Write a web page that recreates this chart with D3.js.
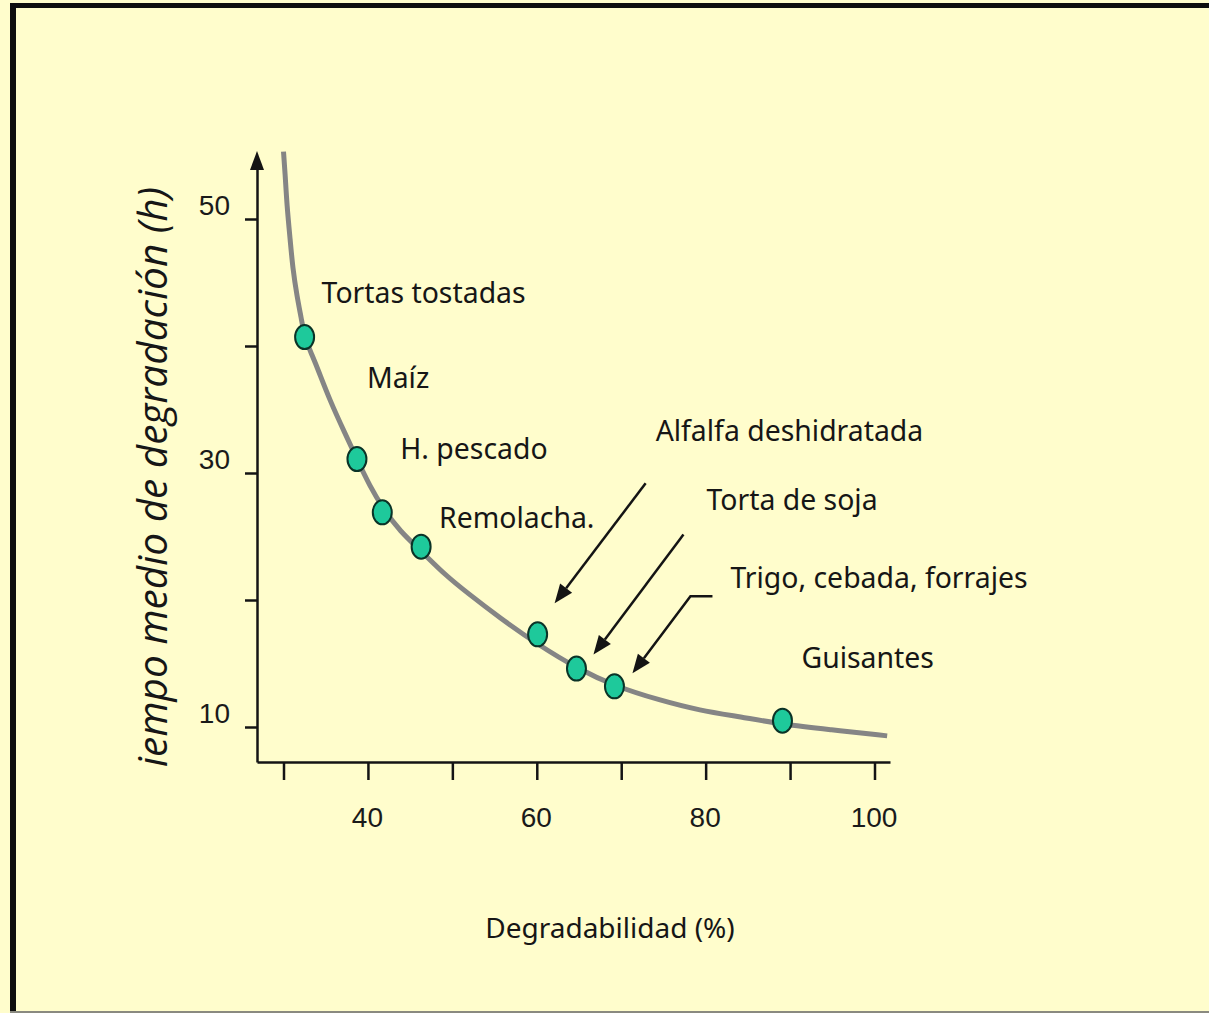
<!DOCTYPE html>
<html>
<head>
<meta charset="utf-8">
<script src="https://cdn.jsdelivr.net/npm/d3@7"></script>
<style>
  html, body { margin: 0; padding: 0; background: #FFFDCC; }
  svg { display: block; }
</style>
</head>
<body>
<svg id="chart" width="1209" height="1013"></svg>
<script>
// ---- data ----
const names = ["Tortas tostadas", "Maíz", "H. pescado", "Remolacha.", "Alfalfa deshidratada", "Torta de soja", "Trigo, cebada, forrajes", "Guisantes"];
const degradability = [32.5, 38.7, 41.7, 46.3, 60.1, 64.7, 69.2, 89.1];
const halfLife = [40.7, 31.1, 26.9, 24.2, 17.3, 14.6, 13.2, 10.5];

const curveX = [30.0, 30.2, 30.4, 30.8, 31.1, 31.6, 32.1, 32.5, 33.3, 34.0, 35.5, 37.3, 38.7, 40.2, 41.8, 43.8, 46.4, 49.1, 51.7, 55.6, 60.1, 64.8, 69.3, 74.6, 79.3, 84.1, 89.2, 94.7, 101.5];
const curveY = [55.3, 53.5, 51.1, 48.3, 46.1, 43.9, 42.2, 40.7, 39.4, 38.3, 35.7, 33.1, 31.1, 29.0, 27.2, 25.4, 23.8, 22.0, 20.6, 18.6, 16.5, 14.6, 13.2, 12.1, 11.3, 10.8, 10.2, 9.8, 9.3];

const xTicks = [30, 40, 50, 60, 70, 80, 90, 100];
const xTickLabels = ["", "40", "", "60", "", "80", "", "100"];
const yTicks = [10, 20, 30, 40, 50];
const yTickLabels = ["10", "", "30", "", "50"];

const xTitle = "Degradabilidad (%)";
const yTitle = "iempo medio de degradación (h)";

// ---- layout ----
const svg = d3.select("#chart");
const W = 1209, H = 1013;
const BG = "#FFFDCC";
const INK = "#141414";

svg.append("rect").attr("width", W).attr("height", H).attr("fill", BG);
// frame
svg.append("rect").attr("x", 10).attr("y", 3).attr("width", W - 10).attr("height", 5).attr("fill", "#0e0e0e");
svg.append("rect").attr("x", 10).attr("y", 3).attr("width", 6).attr("height", H - 3).attr("fill", "#0e0e0e");
svg.append("rect").attr("x", 10).attr("y", H - 2).attr("width", W - 10).attr("height", 2).attr("fill", "#8a8a80");

const x = d3.scaleLinear().domain([30, 100]).range([283.5, 874.5]);
const y = d3.scaleLinear().domain([10, 50]).range([727, 219]);

const axisLeftX = 257, axisBottomY = 762, axisRightX = 890, axisTopY = 168;

// x axis
const xAxisScale = d3.scaleLinear()
  .domain([x.invert(axisLeftX), x.invert(axisRightX)])
  .range([axisLeftX, axisRightX]);
const gx = svg.append("g").attr("transform", `translate(0,${axisBottomY})`)
  .call(d3.axisBottom(xAxisScale).tickValues(xTicks).tickSize(18).tickSizeOuter(0)
    .tickFormat((d, i) => xTickLabels[i]));
gx.select(".domain").attr("stroke", INK).attr("stroke-width", 2.5);
gx.selectAll(".tick line").attr("stroke", INK).attr("stroke-width", 2.5);
gx.selectAll(".tick text").attr("dy", null).attr("y", 65).attr("x", -1)
  .attr("fill", "#1a1a1a")
  .style("font-family", "'Liberation Sans', Arial, sans-serif").style("font-size", "28px");

// y axis
const yAxisScale = d3.scaleLinear()
  .domain([y.invert(axisBottomY), y.invert(axisTopY)])
  .range([axisBottomY, axisTopY]);
const gy = svg.append("g").attr("transform", `translate(${axisLeftX},0)`)
  .call(d3.axisLeft(yAxisScale).tickValues(yTicks).tickSize(12).tickSizeOuter(0)
    .tickFormat((d, i) => yTickLabels[i]));
gy.select(".domain").attr("stroke", INK).attr("stroke-width", 2.5);
gy.selectAll(".tick line").attr("stroke", INK).attr("stroke-width", 2.5);
gy.selectAll(".tick text").attr("dy", null).attr("y", -5).attr("x", -27)
  .attr("fill", "#1a1a1a")
  .style("font-family", "'Liberation Sans', Arial, sans-serif").style("font-size", "28px");
// arrowhead on y axis
svg.append("path")
  .attr("d", `M${axisLeftX},151 L${axisLeftX - 7},170 L${axisLeftX + 7},170 Z`)
  .attr("fill", INK);

// curve
const curvePts = curveX.map((v, i) => [v, curveY[i]]);
svg.append("path")
  .datum(curvePts)
  .attr("d", d3.line().x(d => x(d[0])).y(d => y(d[1])).curve(d3.curveBasis))
  .attr("fill", "none")
  .attr("stroke", "#858585")
  .attr("stroke-width", 5)
  .attr("stroke-linecap", "butt");

// points
const pts = names.map((n, i) => ({ name: n, x: degradability[i], y: halfLife[i] }));
svg.append("g").selectAll("ellipse").data(pts).join("ellipse")
  .attr("cx", d => x(d.x)).attr("cy", d => y(d.y))
  .attr("rx", 9.5).attr("ry", 12)
  .attr("fill", "#1ec99b")
  .attr("stroke", "#0b3327").attr("stroke-width", 2);

// label offsets (pixels from point centre)
const labelOffsets = [[17, -34], [10, -71], [18, -53], [18, -19], [118, -193], [130, -159], [116, -98], [19, -53]];
svg.append("g").selectAll("text").data(pts).join("text")
  .attr("x", (d, i) => x(d.x) + labelOffsets[i][0])
  .attr("y", (d, i) => y(d.y) + labelOffsets[i][1])
  .attr("fill", "#161616")
  .style("font-family", "'Noto Sans', sans-serif")
  .style("font-size", "28.4px")
  .text(d => d.name);

// arrows (pixel offsets from point centre): polyline ending at arrow tip
const arrowPaths = {
  4: [[108, -151], [17, -31]],
  5: [[107, -134], [17, -14]],
  6: [[98, -90], [76, -90], [18, -13]]
};
const ag = svg.append("g");
Object.entries(arrowPaths).forEach(([idx, segs]) => {
  const p = pts[+idx];
  const cx = x(p.x), cy = y(p.y);
  const abs = segs.map(s => [cx + s[0], cy + s[1]]);
  const tip = abs[abs.length - 1], prev = abs[abs.length - 2];
  const ang = Math.atan2(tip[1] - prev[1], tip[0] - prev[0]);
  const L = 19, Wd = 7.5;
  const bx = tip[0] - L * Math.cos(ang), by = tip[1] - L * Math.sin(ang);
  const lineAbs = abs.slice(0, -1).concat([[bx, by]]);
  ag.append("path").attr("d", d3.line()(lineAbs))
    .attr("fill", "none").attr("stroke", INK).attr("stroke-width", 2.5);
  const px = -Math.sin(ang), py = Math.cos(ang);
  ag.append("path")
    .attr("d", `M${tip[0]},${tip[1]} L${bx + px * Wd},${by + py * Wd} L${bx - px * Wd},${by - py * Wd} Z`)
    .attr("fill", INK);
});

// titles
svg.append("text")
  .attr("x", 610).attr("y", 938)
  .attr("text-anchor", "middle")
  .attr("fill", "#161616")
  .style("font-family", "'Liberation Sans Narrow', 'Noto Sans', sans-serif")
  .style("font-size", "28px")
  .text(xTitle);

svg.append("text")
  .attr("transform", "translate(151,477) rotate(-90)")
  .attr("text-anchor", "middle")
  .attr("dominant-baseline", "central")
  .attr("fill", "#161616")
  .style("font-family", "'Open Sans', sans-serif")
  .style("font-style", "italic")
  .style("font-size", "40.5px")
  .text(yTitle);
</script>
</body>
</html>
